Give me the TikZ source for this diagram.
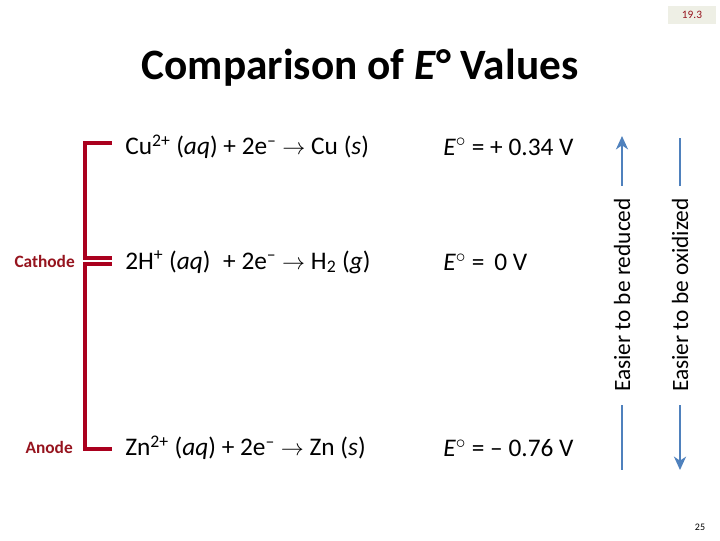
\documentclass[tikz,border=0pt]{standalone}
\usepackage{fontspec}
\setmainfont{Carlito}
\usetikzlibrary{arrows.meta}
\definecolor{bracketred}{RGB}{170,0,30}
\definecolor{labelred}{RGB}{150,20,30}
\definecolor{arrowblue}{RGB}{79,129,189}
\definecolor{badgegrey}{RGB}{238,239,229}
\tikzset{
  eqn/.style={anchor=west,inner sep=0pt,font=\fontsize{19}{21}\selectfont},
  side/.style={anchor=east,inner sep=0pt,text=labelred,font=\fontsize{13}{15}\selectfont\bfseries},
  bracket/.style={draw=bracketred,line width=2.4pt},
  trend/.style={draw=arrowblue,line width=1.9pt},
  tip/.style={-{Stealth[length=10pt,width=9pt,inset=3pt]}},
  trendtext/.style={rotate=90,inner sep=0pt,font=\fontsize{17.5}{19}\selectfont}
}
\newcommand{\Eo}{\textit{E}\textsuperscript{$\circ$}}
\begin{document}
\begin{tikzpicture}[x=0.75pt,y=-0.75pt]
\useasboundingbox (0,0) rectangle (720,540);
% slide badge and number
\node[fill=badgegrey,minimum width=36pt,minimum height=14pt,inner sep=0pt,text=labelred,font=\fontsize{8.5}{10}\selectfont] (badge) at (692,15) {19.3};
\node[font=\fontsize{7.5}{9}\selectfont] (pagenum) at (700,527) {25};
% title
\node[font=\fontsize{32.5}{36}\selectfont\bfseries] (title) at (360,68) {Comparison of \textit{E}° Values};
% half reactions
\node[eqn] (cu) at (125,147) {Cu\textsuperscript{2+} (\textit{aq}) + 2e\textsuperscript{–} $\rightarrow$ Cu (\textit{s})};
\node[eqn] (hh) at (125,262) {2H\textsuperscript{+} (\textit{aq})\enspace + 2e\textsuperscript{–} $\rightarrow$ H\textsubscript{2} (\textit{g})};
\node[eqn] (zn) at (125,448) {Zn\textsuperscript{2+} (\textit{aq}) + 2e\textsuperscript{–} $\rightarrow$ Zn (\textit{s})};
\node[eqn] (ecu) at (443,147) {\Eo{} = + 0.34 V};
\node[eqn] (eh) at (443,262) {\Eo{} = \,0 V};
\node[eqn] (ezn) at (443,448) {\Eo{} = – 0.76 V};
% cathode / anode bracket
\node[side] (cathode) at (75,261) {Cathode};
\node[side] (anode) at (73,447) {Anode};
\coordinate (ctop) at (85,143);
\coordinate (cmid) at (85,258);
\coordinate (amid) at (85,264);
\coordinate (abot) at (85,449);
\draw[bracket] ([xshift=-10pt]ctop-|cu.west) -- (ctop) -- (cmid) -- ([xshift=-10pt]cmid-|hh.west);
\draw[bracket] ([xshift=-10pt]amid-|hh.west) -- (amid) -- (abot) -- ([xshift=-10pt]abot-|zn.west);
% trend arrows
\node[trendtext] (red) at (622,295) {Easier to be reduced};
\node[trendtext] (ox) at (680,295) {Easier to be oxidized};
\coordinate (redtop) at (622,136);
\coordinate (redbot) at (622,470);
\coordinate (oxtop) at (680,138);
\coordinate (oxbot) at (680,470);
\draw[trend,tip] ([yshift=9pt]red.east) -- (redtop);
\draw[trend] ([yshift=-10pt]red.west) -- (redbot);
\draw[trend] ([yshift=9pt]ox.east) -- (oxtop);
\draw[trend,tip] ([yshift=-10pt]ox.west) -- (oxbot);
\end{tikzpicture}
\end{document}
